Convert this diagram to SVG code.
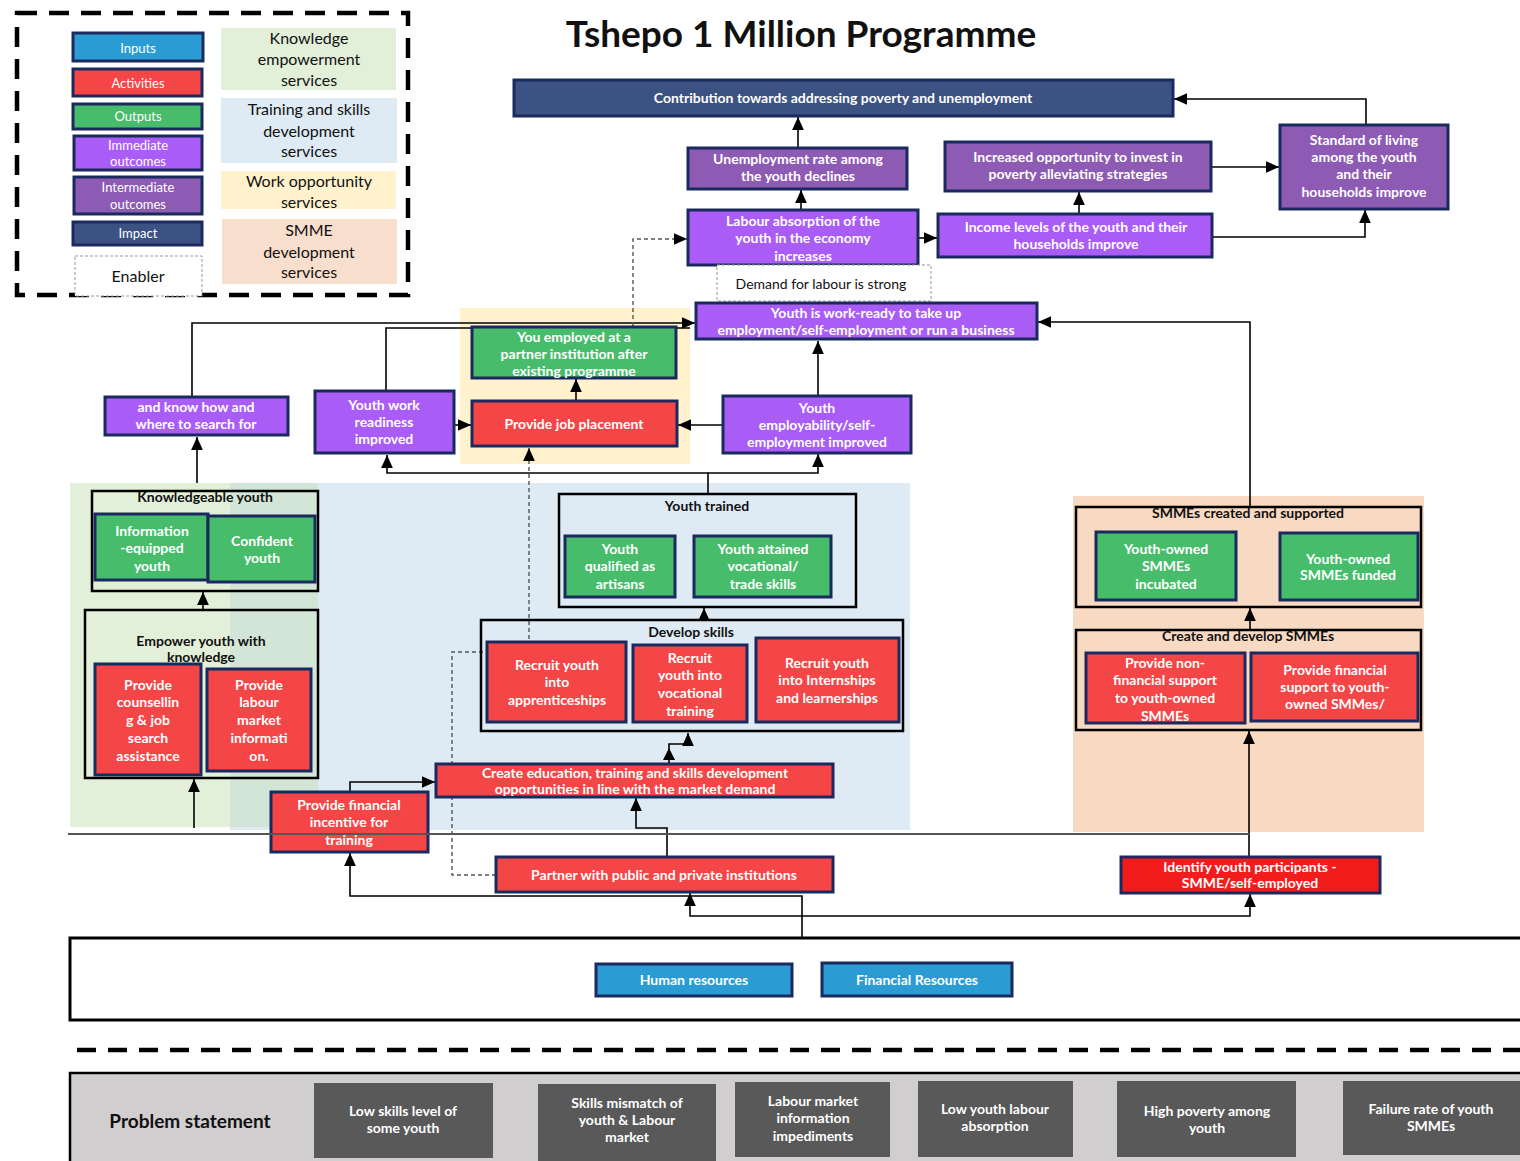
<svg xmlns="http://www.w3.org/2000/svg" width="1520" height="1161" viewBox="0 0 1520 1161">
<defs>
<marker id="ah" viewBox="0 0 10 10" refX="10" refY="5" markerWidth="13" markerHeight="13" markerUnits="userSpaceOnUse" orient="auto"><path d="M0,0.5 L10,5 L0,9.5 z" fill="#000"/></marker>
</defs>
<style>
.n{stroke:#1b2a5e;stroke-width:3}
.imp{fill:#3c5283}
.int{fill:#8d5bb4}
.imm{fill:#a95cf6}
.out{fill:#47bd6b}
.act{fill:#f44646}
.act2{fill:#f21c1c}
.inp{fill:#2a9bd3}
.prb{fill:#595959}
.grp{fill:none;stroke:#000;stroke-width:2.5}
.t{font-family:Lato,"Open Sans",sans-serif;font-weight:700;font-size:14px;fill:#fff;text-anchor:middle}
.gt{font-family:Lato,"Open Sans",sans-serif;font-weight:700;font-size:14px;fill:#111;text-anchor:middle}
.lt{font-family:Lato,"Open Sans",sans-serif;font-size:13px;fill:#fff;text-anchor:middle}
.rt{font-family:Lato,"Open Sans",sans-serif;font-size:16px;fill:#111;text-anchor:middle}
.pt{font-family:Lato,"Open Sans",sans-serif;font-weight:700;font-size:14px;fill:#fff;text-anchor:middle}
.c{fill:none;stroke:#000;stroke-width:1.6}
.d{fill:none;stroke:#555;stroke-width:1.4;stroke-dasharray:4 3}
</style>
<rect width="1520" height="1161" fill="#fff"/>

<!-- legend -->
<g id="legend">
<rect x="17" y="13" width="391" height="282" fill="none" stroke="#000" stroke-width="4.5" stroke-dasharray="20 12"/>
<rect class="n inp" x="73" y="33" width="130" height="28"/>
<text class="lt" x="138" y="53">Inputs</text>
<rect class="n act" x="73" y="69" width="129" height="27"/>
<text class="lt" x="138" y="88">Activities</text>
<rect class="n out" x="73" y="104" width="129" height="25"/>
<text class="lt" x="138" y="121">Outputs</text>
<rect class="n imm" x="74" y="136" width="128" height="34"/>
<text class="lt" font-size="12.5"><tspan x="138" y="150">Immediate</tspan><tspan x="138" y="166">outcomes</tspan></text>
<rect class="n int" x="74" y="177" width="128" height="37"/>
<text class="lt" font-size="12.5"><tspan x="138" y="192">Intermediate</tspan><tspan x="138" y="209">outcomes</tspan></text>
<rect class="n imp" x="73" y="222" width="129" height="23"/>
<text class="lt" x="138" y="238">Impact</text>
<rect x="75" y="256" width="127" height="40" fill="#fff" stroke="#999" stroke-width="1" stroke-dasharray="3 2"/>
<text class="rt" font-size="15" x="138" y="282">Enabler</text>
<rect x="221" y="28" width="175" height="62" fill="#e2efd9"/>
<text class="rt"><tspan x="309" y="44">Knowledge</tspan><tspan x="309" y="65">empowerment</tspan><tspan x="309" y="86">services</tspan></text>
<rect x="221" y="98" width="176" height="65" fill="#deeaf4"/>
<text class="rt"><tspan x="309" y="115">Training and skills</tspan><tspan x="309" y="137">development</tspan><tspan x="309" y="157">services</tspan></text>
<rect x="221" y="171" width="175" height="38" fill="#fff2cc"/>
<text class="rt"><tspan x="309" y="187">Work opportunity</tspan><tspan x="309" y="208">services</tspan></text>
<rect x="222" y="219" width="175" height="65" fill="#f8dfcd"/>
<text class="rt"><tspan x="309" y="236">SMME</tspan><tspan x="309" y="258">development</tspan><tspan x="309" y="278">services</tspan></text>
</g>

<text x="801" y="47" font-family="Lato,'Open Sans',sans-serif" font-weight="700" font-size="37" fill="#111" text-anchor="middle">Tshepo 1 Million Programme</text>

<!-- service areas -->
<g id="areas">
<rect x="70" y="483" width="248" height="344" fill="#e2efd9"/>
<rect x="230" y="483" width="680" height="347" fill="#deeaf4"/>
<rect x="230" y="483" width="88" height="344" fill="#d2e5d6"/>
<rect x="460" y="308" width="230" height="156" fill="#fff2cc"/>
<rect x="1073" y="496" width="351" height="336" fill="#f8d9c2"/>
</g>

<!-- input and problem bands -->
<g id="bands">
<rect x="70" y="938" width="1460" height="82" fill="none" stroke="#000" stroke-width="3"/>
<line x1="77" y1="1050" x2="1520" y2="1050" stroke="#000" stroke-width="4.5" stroke-dasharray="19 12"/>
<rect x="70" y="1073" width="1460" height="100" fill="#d0cece" stroke="#000" stroke-width="2.5"/>
<text x="190" y="1128" font-family="Lato,'Open Sans',sans-serif" font-weight="700" font-size="19" fill="#111" text-anchor="middle">Problem statement</text>
</g>

<!-- connectors -->
<g id="connectors">
<path class="c" marker-end="url(#ah)" d="M798,148 V117"/>
<path class="c" marker-end="url(#ah)" d="M801,210 V190"/>
<path class="c" marker-end="url(#ah)" d="M918,238 H937"/>
<path class="c" marker-end="url(#ah)" d="M1079,214 V192"/>
<path class="c" marker-end="url(#ah)" d="M1211,167 H1279"/>
<path class="c" marker-end="url(#ah)" d="M1213,237 H1365 V210"/>
<path class="c" marker-end="url(#ah)" d="M1366,124 V99 H1174"/>
<path class="c" marker-end="url(#ah)" d="M1250,507 V322 H1038"/>
<path class="c" marker-end="url(#ah)" d="M818,396 V341"/>
<path class="c" marker-end="url(#ah)" d="M723,425 H678"/>
<path class="c" marker-end="url(#ah)" d="M576,401 V379"/>
<path class="c" marker-end="url(#ah)" d="M454,425 H471"/>
<path class="c" marker-end="url(#ah)" d="M192,397 V323 H695"/>
<path class="c" d="M386,391 V328 H690"/>
<path class="d" marker-end="url(#ah)" d="M633,326 V239 H687"/>
<path class="c" marker-end="url(#ah)" d="M708,494 V473 H387 V455"/>
<path class="c" marker-end="url(#ah)" d="M708,473 H818 V454"/>
<path class="c" marker-end="url(#ah)" d="M197,483 V437"/>
<path class="c" marker-end="url(#ah)" d="M704,620 V608"/>
<path class="c" marker-end="url(#ah)" d="M203,610 V592"/>
<path class="c" marker-end="url(#ah)" d="M194,828 V779"/>
<path class="c" marker-end="url(#ah)" d="M669,763 V744 H688 V733"/>
<path d="M663,760 L669,748 L675,760 z" fill="#000"/>
<path class="c" marker-end="url(#ah)" d="M350,792 V782 H435"/>
<path class="c" marker-end="url(#ah)" d="M667,856 V828 H636 V798"/>
<path class="d" marker-end="url(#ah)" d="M496,875 H452 V652 H529 V448"/>
<path class="c" marker-end="url(#ah)" d="M1249,856 V731"/>
<path class="c" marker-end="url(#ah)" d="M1250,630 V608"/>
<path class="c" marker-end="url(#ah)" d="M802,938 V896 H350 V853"/>
<path class="c" marker-end="url(#ah)" d="M802,916 H690 V893"/>
<path class="c" marker-end="url(#ah)" d="M802,916 H1250 V894"/>
</g>

<!-- impact and outcomes -->
<g id="impact">
<rect class="n imp" x="514" y="80" width="659" height="36"/>
<text class="t" x="843" y="103">Contribution towards addressing poverty and unemployment</text>
</g>
<g id="unemployment">
<rect class="n int" x="688" y="148" width="219" height="41"/>
<text class="t"><tspan x="798" y="164">Unemployment rate among</tspan><tspan x="798" y="181">the youth declines</tspan></text>
</g>
<g id="invest">
<rect class="n int" x="945" y="142" width="266" height="49"/>
<text class="t"><tspan x="1078" y="162">Increased opportunity to invest in</tspan><tspan x="1078" y="179">poverty alleviating strategies</tspan></text>
</g>
<g id="standard">
<rect class="n int" x="1280" y="125" width="168" height="84"/>
<text class="t"><tspan x="1364" y="145">Standard of living</tspan><tspan x="1364" y="162">among the youth</tspan><tspan x="1364" y="179">and their</tspan><tspan x="1364" y="197">households improve</tspan></text>
</g>
<g id="absorption">
<rect class="n imm" x="688" y="210" width="230" height="55"/>
<text class="t"><tspan x="803" y="226">Labour absorption of the</tspan><tspan x="803" y="243">youth in the economy</tspan><tspan x="803" y="261">increases</tspan></text>
</g>
<g id="income">
<rect class="n imm" x="938" y="214" width="274" height="43"/>
<text class="t"><tspan x="1076" y="232">Income levels of the youth and their</tspan><tspan x="1076" y="249">households improve</tspan></text>
</g>
<g id="demand">
<rect x="717" y="265" width="214" height="36" fill="#fff" stroke="#999" stroke-width="1" stroke-dasharray="3 2"/>
<text x="821" y="289" font-family="Lato,'Open Sans',sans-serif" font-size="14" fill="#111" text-anchor="middle">Demand for labour is strong</text>
</g>
<g id="work-ready">
<rect class="n imm" x="696" y="303" width="341" height="36"/>
<text class="t"><tspan x="866" y="318">Youth is work-ready to take up</tspan><tspan x="866" y="335">employment/self-employment or run a business</tspan></text>
</g>
<g id="employed">
<rect class="n out" x="472" y="327" width="204" height="51"/>
<text class="t"><tspan x="574" y="342">You employed at a</tspan><tspan x="574" y="359">partner institution after</tspan><tspan x="574" y="376">existing programme</tspan></text>
</g>
<g id="placement">
<rect class="n act" x="472" y="401" width="205" height="45"/>
<text class="t" x="574" y="429">Provide job placement</text>
</g>
<g id="employability">
<rect class="n imm" x="723" y="396" width="188" height="57"/>
<text class="t"><tspan x="817" y="413">Youth</tspan><tspan x="817" y="430">employability/self-</tspan><tspan x="817" y="447">employment improved</tspan></text>
</g>
<g id="know-how">
<rect class="n imm" x="105" y="397" width="183" height="38"/>
<text class="t"><tspan x="196" y="412">and know how and</tspan><tspan x="196" y="429">where to search for</tspan></text>
</g>
<g id="readiness">
<rect class="n imm" x="315" y="391" width="139" height="62"/>
<text class="t"><tspan x="384" y="410">Youth  work</tspan><tspan x="384" y="427">readiness</tspan><tspan x="384" y="444">improved</tspan></text>
</g>

<!-- knowledge empowerment -->
<g id="knowledgeable">
<rect class="grp" x="92" y="491" width="226" height="100"/>
<text class="gt" x="205" y="502">Knowledgeable youth</text>
<rect class="n out" x="95" y="514" width="113" height="66"/>
<text class="t"><tspan x="152" y="536">Information</tspan><tspan x="152" y="553">-equipped</tspan><tspan x="152" y="571">youth</tspan></text>
<rect class="n out" x="208" y="516" width="107" height="66"/>
<text class="t"><tspan x="262" y="546">Confident</tspan><tspan x="262" y="563">youth</tspan></text>
</g>
<g id="empower">
<rect class="grp" x="85" y="610" width="233" height="168"/>
<text class="gt"><tspan x="201" y="646">Empower youth with</tspan><tspan x="201" y="662">knowledge</tspan></text>
<rect class="n act" x="95" y="664" width="106" height="111"/>
<text class="t"><tspan x="148" y="690">Provide</tspan><tspan x="148" y="707">counsellin</tspan><tspan x="148" y="725">g &amp; job</tspan><tspan x="148" y="743">search</tspan><tspan x="148" y="761">assistance</tspan></text>
<rect class="n act" x="207" y="669" width="104" height="102"/>
<text class="t"><tspan x="259" y="690">Provide</tspan><tspan x="259" y="707">labour</tspan><tspan x="259" y="725">market</tspan><tspan x="259" y="743">informati</tspan><tspan x="259" y="761">on.</tspan></text>
</g>
<g id="incentive">
<rect class="n act" x="271" y="792" width="157" height="60"/>
<text class="t"><tspan x="349" y="810">Provide financial</tspan><tspan x="349" y="827">incentive for</tspan><tspan x="349" y="845">training</tspan></text>
</g>

<!-- training and skills -->
<g id="trained">
<rect class="grp" x="559" y="494" width="297" height="113"/>
<text class="gt" x="707" y="511">Youth trained</text>
<rect class="n out" x="565" y="536" width="110" height="61"/>
<text class="t"><tspan x="620" y="554">Youth</tspan><tspan x="620" y="571">qualified as</tspan><tspan x="620" y="589">artisans</tspan></text>
<rect class="n out" x="694" y="536" width="137" height="61"/>
<text class="t"><tspan x="763" y="554">Youth attained</tspan><tspan x="763" y="571">vocational/</tspan><tspan x="763" y="589">trade skills</tspan></text>
</g>
<g id="develop">
<rect class="grp" x="481" y="620" width="422" height="111"/>
<text class="gt" x="691" y="637">Develop skills</text>
<rect class="n act" x="487" y="642" width="139" height="80"/>
<text class="t"><tspan x="557" y="670">Recruit youth</tspan><tspan x="557" y="687">into</tspan><tspan x="557" y="705">apprenticeships</tspan></text>
<rect class="n act" x="633" y="645" width="114" height="77"/>
<text class="t"><tspan x="690" y="663">Recruit</tspan><tspan x="690" y="680">youth into</tspan><tspan x="690" y="698">vocational</tspan><tspan x="690" y="716">training</tspan></text>
<rect class="n act" x="756" y="638" width="143" height="84"/>
<text class="t"><tspan x="827" y="668">Recruit youth</tspan><tspan x="827" y="685">into Internships</tspan><tspan x="827" y="703">and learnerships</tspan></text>
</g>
<g id="create-education">
<rect class="n act" x="436" y="764" width="397" height="33"/>
<text class="t"><tspan x="635" y="778">Create education, training and skills development</tspan><tspan x="635" y="794">opportunities in line with the market demand</tspan></text>
</g>
<g id="partner">
<rect class="n act" x="496" y="857" width="337" height="35"/>
<text class="t" x="664" y="880">Partner with public and private institutions</text>
</g>

<!-- SMME development -->
<g id="smmes-created">
<rect class="grp" x="1076" y="507" width="345" height="100"/>
<text class="gt" x="1248" y="518">SMMEs created and supported</text>
<rect class="n out" x="1096" y="532" width="140" height="68"/>
<text class="t"><tspan x="1166" y="554">Youth-owned</tspan><tspan x="1166" y="571">SMMEs</tspan><tspan x="1166" y="589">incubated</tspan></text>
<rect class="n out" x="1280" y="533" width="138" height="67"/>
<text class="t"><tspan x="1348" y="564">Youth-owned</tspan><tspan x="1348" y="580">SMMEs funded</tspan></text>
</g>
<g id="create-smmes">
<rect class="grp" x="1076" y="630" width="345" height="100"/>
<text class="gt" x="1248" y="641">Create and develop SMMEs</text>
<rect class="n act" x="1086" y="653" width="159" height="70"/>
<text class="t"><tspan x="1165" y="668">Provide non-</tspan><tspan x="1165" y="685">financial support</tspan><tspan x="1165" y="703">to youth-owned</tspan><tspan x="1165" y="721">SMMEs</tspan></text>
<rect class="n act" x="1251" y="653" width="167" height="68"/>
<text class="t"><tspan x="1335" y="675">Provide financial</tspan><tspan x="1335" y="692">support to youth-</tspan><tspan x="1335" y="709">owned SMMes/</tspan></text>
</g>
<g id="identify">
<rect class="n act2" x="1121" y="857" width="259" height="36"/>
<text class="t"><tspan x="1250" y="872">Identify youth participants  -</tspan><tspan x="1250" y="888">SMME/self-employed</tspan></text>
</g>

<line x1="68" y1="834" x2="1249" y2="834" stroke="#555" stroke-width="2"/>

<!-- inputs -->
<g id="human-resources">
<rect class="n inp" x="596" y="964" width="196" height="32"/>
<text class="pt" x="694" y="985">Human resources</text>
</g>
<g id="financial-resources">
<rect class="n inp" x="822" y="963" width="190" height="33"/>
<text class="pt" x="917" y="985">Financial Resources</text>
</g>

<!-- problem statement -->
<g id="p-low-skills">
<rect class="prb" x="314" y="1083" width="179" height="75"/>
<text class="pt"><tspan x="403" y="1116">Low skills level of</tspan><tspan x="403" y="1133">some youth</tspan></text>
</g>
<g id="p-mismatch">
<rect class="prb" x="538" y="1084" width="178" height="77"/>
<text class="pt"><tspan x="627" y="1108">Skills mismatch of</tspan><tspan x="627" y="1125">youth &amp; Labour</tspan><tspan x="627" y="1142">market</tspan></text>
</g>
<g id="p-lmi">
<rect class="prb" x="735" y="1082" width="155" height="75"/>
<text class="pt"><tspan x="813" y="1106">Labour market</tspan><tspan x="813" y="1123">information</tspan><tspan x="813" y="1141">impediments</tspan></text>
</g>
<g id="p-absorption">
<rect class="prb" x="918" y="1081" width="155" height="76"/>
<text class="pt"><tspan x="995" y="1114">Low youth labour</tspan><tspan x="995" y="1131">absorption</tspan></text>
</g>
<g id="p-poverty">
<rect class="prb" x="1117" y="1081" width="179" height="76"/>
<text class="pt"><tspan x="1207" y="1116">High poverty among</tspan><tspan x="1207" y="1133">youth</tspan></text>
</g>
<g id="p-smme-failure">
<rect class="prb" x="1343" y="1081" width="180" height="74"/>
<text class="pt"><tspan x="1431" y="1114">Failure rate of youth</tspan><tspan x="1431" y="1131">SMMEs</tspan></text>
</g>
</svg>
